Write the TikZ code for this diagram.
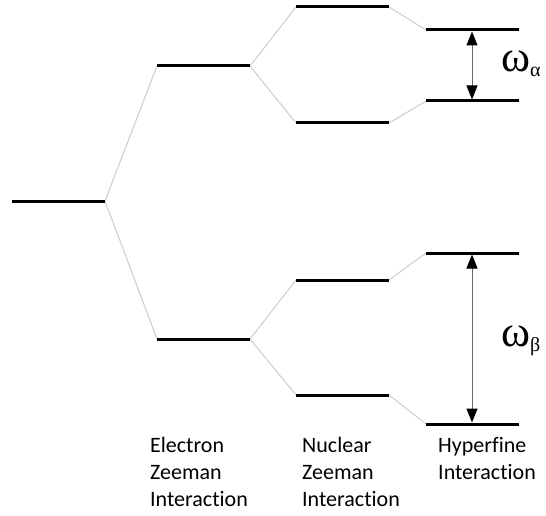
\documentclass[tikz,border=0pt]{standalone}
\usepackage{fontspec}
\setmainfont[Ligatures=NoCommon]{Carlito}
\newfontfamily\greekf{Liberation Serif}
\usetikzlibrary{arrows.meta}
\begin{document}
\begin{tikzpicture}[x=1pt,y=-1pt,
  level/.style={line width=3pt,black},
  link/.style={line width=1pt,draw=black!20},
  tipa/.tip={Triangle[width=11pt,length=14pt,color=black,fill=black]},
  gap/.style={line width=1pt,draw=black!60,tipa-tipa},
  lab/.style={anchor=north west,align=left,font=\fontsize{22}{27}\selectfont,inner sep=0pt},
  om/.style={anchor=west,inner sep=0pt,font=\greekf\fontsize{44}{44}\selectfont}]
\useasboundingbox (0,0) rectangle (546,516);
% level end points
\coordinate (gL) at (12,201);   \coordinate (gR) at (105,201);
\coordinate (aL) at (157,66);   \coordinate (aR) at (250,66);
\coordinate (bL) at (157,339);  \coordinate (bR) at (250,339);
\coordinate (n1L) at (296,7);   \coordinate (n1R) at (389,7);
\coordinate (n2L) at (296,123); \coordinate (n2R) at (389,123);
\coordinate (n3L) at (296,280); \coordinate (n3R) at (389,280);
\coordinate (n4L) at (296,395); \coordinate (n4R) at (389,395);
\coordinate (h1L) at (426,30);  \coordinate (h1R) at (519,30);
\coordinate (h2L) at (426,101); \coordinate (h2R) at (519,101);
\coordinate (h3L) at (426,253); \coordinate (h3R) at (519,253);
\coordinate (h4L) at (426,424); \coordinate (h4R) at (519,424);
% connectors
\draw[link] (gR) -- (aL);
\draw[link] (gR) -- (bL);
\draw[link] (aR) -- (n1L);
\draw[link] (aR) -- (n2L);
\draw[link] (bR) -- (n3L);
\draw[link] (bR) -- (n4L);
\draw[link] (n1R) -- (h1L);
\draw[link] (n2R) -- (h2L);
\draw[link] (n3R) -- (h3L);
\draw[link] (n4R) -- (h4L);
% levels
\foreach \p in {g,a,b,n1,n2,n3,n4,h1,h2,h3,h4}
  \draw[level] (\p L) -- (\p R);
% gaps
\coordinate (ga1) at (472,31.5); \coordinate (ga2) at (472,99.5);
\coordinate (gb1) at (472,254.5); \coordinate (gb2) at (472,422.5);
\draw[gap] (ga1) -- (ga2);
\draw[gap] (gb1) -- (gb2);
\node[om] (wa) at (501,64) {ω\raisebox{-0.12em}{\fontsize{20}{20}\selectfont α}};
\node[om] (wb) at (501,341) {ω\raisebox{-0.12em}{\fontsize{20}{20}\selectfont β}};
% labels
\node[lab] (e) at (150,437) {Electron\\Zeeman\\Interaction};
\node[lab] (n) at (302,437) {Nuclear\\Zeeman\\Interaction};
\node[lab] (h) at (438,437) {Hyperfine\\Interaction};
\end{tikzpicture}
\end{document}
